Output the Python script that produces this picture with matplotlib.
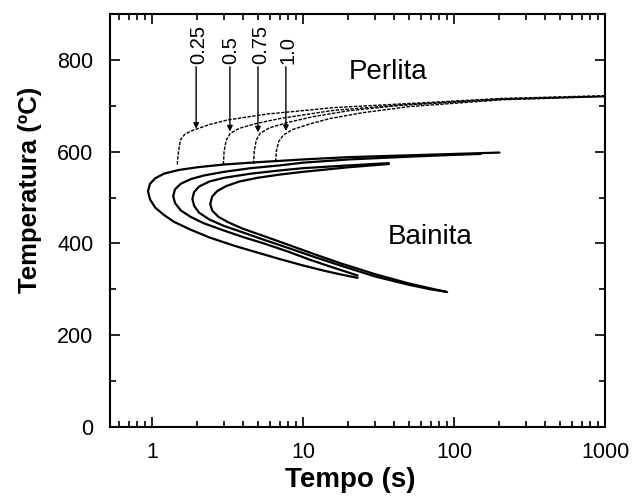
import matplotlib
matplotlib.use("Agg")
import matplotlib.pyplot as plt
from matplotlib.ticker import LogLocator, FixedLocator, NullFormatter

plt.rcParams["font.family"] = ["Liberation Sans", "DejaVu Sans"]

# bainite C-curves (time in s, temperature in C), from upper end -> nose -> lower end
bain1_t = [200, 100, 50, 20, 10, 5, 3, 2, 1.5, 1.2, 1.05, 0.97, 0.94,
           0.97, 1.05, 1.2, 1.4, 1.8, 2.4, 3.5, 5, 7, 10, 14, 18, 23]
bain1_T = [598, 595, 592, 588, 583, 577, 572, 566, 560, 552, 542, 530, 514,
           496, 478, 462, 447, 430, 413, 395, 380, 366, 352, 340, 332, 325]

bain2_t = [150, 100, 50, 20, 10, 7, 4.5, 3, 2.2, 1.8, 1.55, 1.42, 1.38,
           1.42, 1.55, 1.8, 2.2, 3, 4, 5.5, 8, 11, 15, 19, 23]
bain2_T = [595, 593, 589, 583, 576, 570, 564, 556, 548, 540, 530, 518, 503,
           488, 472, 458, 444, 428, 414, 400, 382, 365, 350, 339, 330]

bain3_t = [37, 20, 10, 7, 4.5, 3, 2.4, 2.05, 1.9, 1.85,
           1.9, 2.05, 2.4, 3, 4, 5.5, 8, 12, 18, 30, 50, 70, 88]
bain3_T = [575, 570, 564, 559, 552, 543, 535, 524, 512, 497,
           482, 467, 452, 438, 424, 408, 390, 370, 351, 328, 310, 300, 295]

bain4_t = [37, 20, 10, 7, 5, 3.8, 3.1, 2.7, 2.5, 2.43,
           2.5, 2.75, 3.2, 4, 5.5, 8, 12, 18, 30, 50, 70, 90]
bain4_T = [573, 566, 556, 550, 543, 535, 525, 514, 502, 486,
           472, 458, 446, 432, 416, 397, 376, 356, 333, 313, 302, 294]

# pearlite start curves
perl1_t = [1.47, 1.49, 1.54, 1.65, 1.88, 2.4, 3.16, 5.8, 9.7, 16, 45, 208, 1000]
perl1_T = [572, 595, 625, 638, 647, 659, 669, 682, 689, 696, 704, 716, 722]

perl2_t = [2.97, 3.0, 3.1, 3.3, 3.8, 5, 7, 10, 16, 45, 208, 1000]
perl2_T = [572, 600, 625, 640, 651, 662, 672, 680, 690, 702, 715, 721]

perl3_t = [4.7, 4.75, 4.9, 5.2, 6, 8, 12, 20, 45, 208, 1000]
perl3_T = [573, 600, 625, 640, 652, 664, 677, 689, 701, 714, 720]

perl4_t = [6.6, 6.65, 6.9, 7.4, 8.5, 11, 15, 25, 50, 208, 1000]
perl4_T = [578, 600, 622, 636, 648, 660, 672, 685, 698, 713, 720]

# arrows with labels
arrow_labels = ["0.25", "0.5", "0.75", "1.0"]
arrow_t = [1.96, 3.28, 5.03, 7.7]
arrow_tip_T = [650, 644, 642, 645]
label_t = [2.05, 3.33, 5.25, 8.0]

fig = plt.figure(figsize=(6.33, 4.99), dpi=100)
ax = fig.add_axes([0.1738, 0.1443, 0.7820, 0.8277])

for t, T in [(bain1_t, bain1_T), (bain2_t, bain2_T),
             (bain3_t, bain3_T), (bain4_t, bain4_T)]:
    ax.plot(t, T, color="black", lw=1.6, solid_capstyle="round")

for t, T in [(perl1_t, perl1_T), (perl2_t, perl2_T),
             (perl3_t, perl3_T), (perl4_t, perl4_T)]:
    ax.plot(t, T, color="black", lw=1.0, linestyle=(0, (2.5, 1.0)))

for lab, ta, tip, tl in zip(arrow_labels, arrow_t, arrow_tip_T, label_t):
    ax.annotate("", xy=(ta, tip), xytext=(ta, 785),
                arrowprops=dict(arrowstyle="-|>", color="black", lw=1.0,
                                mutation_scale=8, shrinkA=0, shrinkB=0))
    ax.text(tl, 792, lab, rotation=90, ha="center", va="bottom", fontsize=14.5)

ax.text(36.7, 773, "Perlita", ha="center", va="center", fontsize=20)
ax.text(69.4, 414, "Bainita", ha="center", va="center", fontsize=20)

ax.set_xscale("log")
ax.set_xlim(0.527, 1000)
ax.set_ylim(0, 900)

ax.xaxis.set_major_locator(FixedLocator([1, 10, 100, 1000]))
ax.set_xticklabels(["1", "10", "100", "1000"])
ax.xaxis.set_minor_locator(LogLocator(base=10, subs=range(2, 10)))
ax.xaxis.set_minor_formatter(NullFormatter())
ax.set_yticks([0, 200, 400, 600, 800])
ax.set_yticks(range(100, 900, 200), minor=True)

ax.tick_params(which="both", direction="in", top=True, right=True,
               labelsize=15.5, width=1.2)
ax.tick_params(which="major", length=7)
ax.tick_params(which="minor", length=4)
ax.tick_params(axis="x", which="major", pad=11)
ax.tick_params(axis="y", which="major", pad=12)
for s in ax.spines.values():
    s.set_linewidth(1.5)

ax.set_xlabel("Tempo (s)", fontsize=20, fontweight="bold")
ax.set_ylabel("Temperatura (ºC)", fontsize=18.5, fontweight="bold")
ax.xaxis.label.set_verticalalignment("center")
ax.xaxis.set_label_coords(0.485, -0.128)
ax.yaxis.set_label_coords(-0.137, 0.574)

fig.savefig("out.png", dpi=100)
